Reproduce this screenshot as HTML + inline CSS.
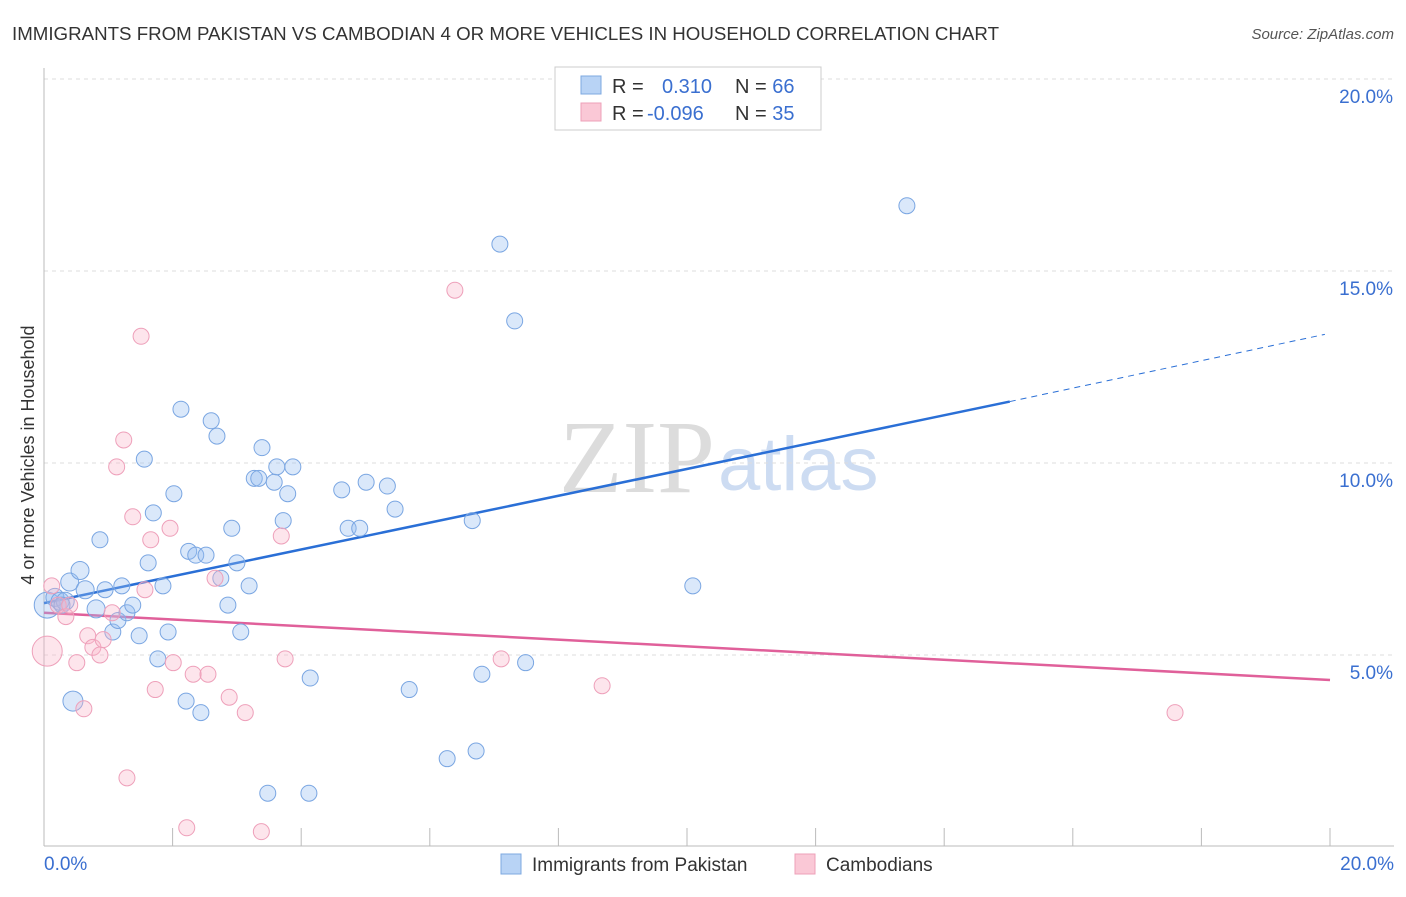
<!DOCTYPE html>
<html><head><meta charset="utf-8">
<style>
body{margin:0;background:#fff;font-family:"Liberation Sans",sans-serif;}
svg text{font-family:"Liberation Sans",sans-serif;}
</style></head>
<body>
<svg width="1406" height="892" id="chart">
<text x="12" y="40" font-size="18" fill="#333" textLength="987" lengthAdjust="spacingAndGlyphs">IMMIGRANTS FROM PAKISTAN VS CAMBODIAN 4 OR MORE VEHICLES IN HOUSEHOLD CORRELATION CHART</text>
<text x="1394" y="39" font-size="15" fill="#555" text-anchor="end" font-style="italic">Source: ZipAtlas.com</text>
<text x="715" y="492" font-size="104" fill="#dcdcdc" text-anchor="end" style="font-family:'Liberation Serif',serif">ZIP</text>
<text x="718" y="490" font-size="76" fill="#cddcf2">atlas</text>
<text transform="translate(34,455) rotate(-90)" font-size="18" fill="#333" text-anchor="middle">4 or more Vehicles in Household</text>
<g id="grid"></g><g id="axes"></g><g id="trend"></g><g id="pts"></g>
<g>
<rect x="555" y="67" width="266" height="63" fill="#fff" stroke="#ccc"/>
<rect x="581" y="76" width="20" height="18" fill="#b8d3f5" stroke="#7ea8e0"/>
<rect x="581" y="103" width="20" height="18" fill="#fac8d6" stroke="#eea0b8"/>
<text x="612" y="93" font-size="20" fill="#333">R = <tspan fill="#3a6fd0" x="662">0.310</tspan><tspan fill="#333" x="735">N = </tspan><tspan fill="#3a6fd0">66</tspan></text>
<text x="612" y="120" font-size="20" fill="#333">R = <tspan fill="#3a6fd0" x="647">-0.096</tspan><tspan fill="#333" x="735">N = </tspan><tspan fill="#3a6fd0">35</tspan></text>
</g>
<g>
<rect x="501" y="854" width="20" height="20" fill="#b8d3f5" stroke="#7ea8e0"/>
<text x="532" y="871" font-size="19" fill="#333">Immigrants from Pakistan</text>
<rect x="795" y="854" width="20" height="20" fill="#fac8d6" stroke="#eea0b8"/>
<text x="826" y="871" font-size="19" fill="#333">Cambodians</text>
</g>
</svg>
<script>
const yTicks=[5,10,15,20];
const xTickLabels=["0.0%","20.0%"];
const blueX=[0.05,0.17,0.25,0.33,0.40,0.56,0.64,0.81,0.87,0.95,1.07,1.15,1.21,1.29,1.38,1.48,1.56,1.62,1.70,1.77,1.85,1.93,2.02,2.13,2.21,2.25,2.36,2.44,2.52,2.60,2.69,2.75,2.86,2.92,3.00,3.06,3.19,3.27,3.34,3.39,3.48,3.58,3.62,3.72,3.79,3.87,4.12,4.14,4.63,4.73,4.91,5.01,5.34,5.46,5.68,6.27,6.66,6.72,6.81,7.09,7.32,7.49,10.09,13.42,0.45,0.28];
const blueY=[6.3,6.5,6.4,6.4,6.9,7.2,6.7,6.2,8.0,6.7,5.6,5.9,6.8,6.1,6.3,5.5,10.1,7.4,8.7,4.9,6.8,5.6,9.2,11.4,3.8,7.7,7.6,3.5,7.6,11.1,10.7,7.0,6.3,8.3,7.4,5.6,6.8,9.6,9.6,10.4,1.4,9.5,9.9,8.5,9.2,9.9,1.4,4.4,9.3,8.3,8.3,9.5,9.4,8.8,4.1,2.3,8.5,2.5,4.5,15.7,13.7,4.8,6.8,16.7,3.8,6.3];
const blueR=[13,9,9,9,9,9,9,9,8,8,8,8,8,8,8,8,8,8,8,8,8,8,8,8,8,8,8,8,8,8,8,8,8,8,8,8,8,8,8,8,8,8,8,8,8,8,8,8,8,8,8,8,8,8,8,8,8,8,8,8,8,8,8,8,10,8];
const pinkX=[0.05,0.12,0.22,0.34,0.40,0.51,0.62,0.68,0.76,0.87,0.92,1.06,1.13,1.24,1.29,1.38,1.51,1.57,1.66,1.73,1.96,2.01,2.22,2.32,2.55,2.66,2.88,3.13,3.38,3.69,3.75,6.39,7.11,8.68,17.59];
const pinkY=[5.1,6.8,6.3,6.0,6.3,4.8,3.6,5.5,5.2,5.0,5.4,6.1,9.9,10.6,1.8,8.6,13.3,6.7,8.0,4.1,8.3,4.8,0.5,4.5,4.5,7.0,3.9,3.5,0.4,8.1,4.9,14.5,4.9,4.2,3.5];
const pinkR=[15,8,8,8,8,8,8,8,8,8,8,8,8,8,8,8,8,8,8,8,8,8,8,8,8,8,8,8,8,8,8,8,8,8,8];
const blueTrend=[[0,6.35],[15.02,11.6]];
const blueTrendExt=[[15.02,11.6],[19.92,13.35]];
const pinkTrend=[[0,6.1],[20,4.35]];
const X0=44,X1=1330,Y0=847,PXY=38.4;
const sx=v=>X0+(X1-X0)*v/20, sy=v=>Y0-v*PXY;
const NS="http://www.w3.org/2000/svg";
function mk(t,a,p){const e=document.createElementNS(NS,t);for(const k in a)e.setAttribute(k,a[k]);document.getElementById(p).appendChild(e);return e;}
yTicks.forEach(t=>{
 const l=mk('line',{x1:X0,x2:1394,y1:sy(t),y2:sy(t),stroke:'#ddd','stroke-dasharray':'4,4'},'grid');
 
 
 const tx=mk('text',{x:1393,y:sy(t)+24,'font-size':19,fill:'#3a6fd0','text-anchor':'end'},'grid');
 tx.textContent=t.toFixed(1)+'%';
 
 
});
const ax=mk('line',{x1:X0,x2:X0,y1:68,y2:846,stroke:'#bbb'},'axes');


const bx=mk('line',{x1:X0,x2:1394,y1:846,y2:846,stroke:'#bbb'},'axes');


for(let i=0;i<=10;i++){const t=mk('line',{x1:sx(i*2),x2:sx(i*2),y1:828,y2:846,stroke:'#bbb'},'axes');
 
 }
[[0,'start',44],[20,'end',1394]].forEach((d,i)=>{const t=mk('text',{x:d[2],y:870,'font-size':19,fill:'#3a6fd0','text-anchor':d[1]},'axes');t.textContent=xTickLabels[i];
 
 });
function tl(p,c,dash,name){const l=mk('line',{x1:sx(p[0][0]),y1:sy(p[0][1]),x2:sx(p[1][0]),y2:sy(p[1][1]),stroke:c,'stroke-width':dash?1:2.5,'stroke-dasharray':dash?'6,5':'none'},'trend');
 
 }
tl(blueTrend,'#2a6fd6',false,'pakistan-trendline');
tl(blueTrendExt,'#2a6fd6',true,'pakistan-trendline-extension');
tl(pinkTrend,'#e0609a',false,'cambodian-trendline');
blueX.forEach((v,i)=>{const c=mk('circle',{cx:sx(v),cy:sy(blueY[i]),r:blueR[i],fill:'rgba(150,190,240,0.35)',stroke:'#7aa6e2','stroke-width':1},'pts');
 
 });
pinkX.forEach((v,i)=>{const c=mk('circle',{cx:sx(v),cy:sy(pinkY[i]),r:pinkR[i],fill:'rgba(248,180,200,0.35)',stroke:'#eea0ba','stroke-width':1},'pts');
 
 });
</script>
</body></html>
